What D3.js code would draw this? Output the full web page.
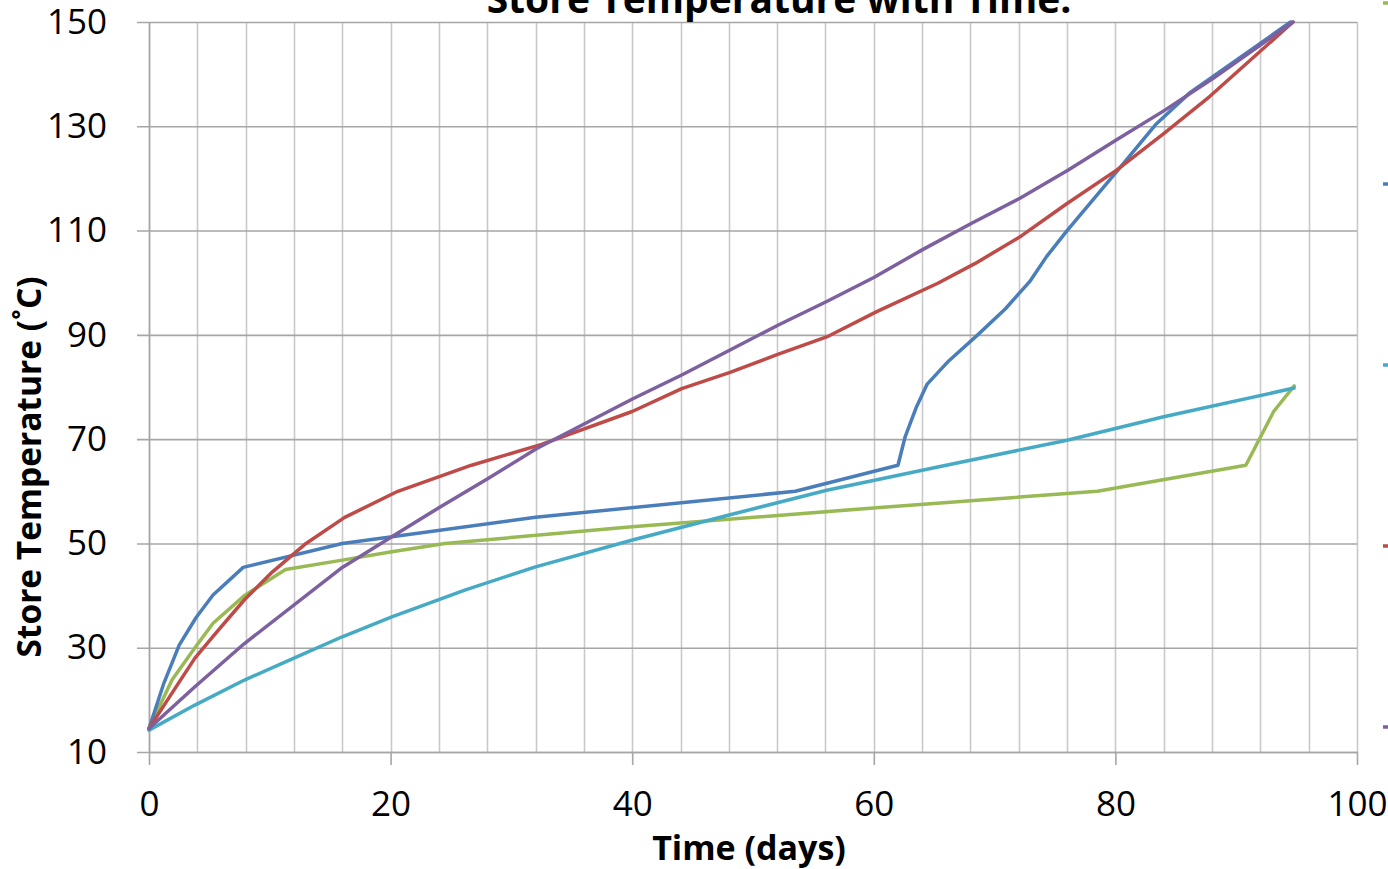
<!DOCTYPE html>
<html>
<head>
<meta charset="utf-8">
<script src="https://cdn.jsdelivr.net/npm/d3@7"></script>
<style>
  html, body { margin: 0; padding: 0; background: #ffffff; overflow: hidden; }
  svg { display: block; font-family: "Open Sans", "Noto Sans", sans-serif; }
</style>
</head>
<body>
<svg id="chart" width="1388" height="869"></svg>
<script>
// Axis ticks
const xTicks = [0, 20, 40, 60, 80, 100];
const yTicks = [10, 30, 50, 70, 90, 110, 130, 150];
const xGridStep = 4;

// Store temperature (°C) against time (days), one pair of arrays per run
const runGreenDays  = [0, 1.9, 3.8, 5.3, 7.9, 11.3, 16, 20.1, 24.5, 40, 60.5, 78.5, 90.8, 93.1, 94.8];
const runGreenTemps = [14.5, 23.8, 30, 34.7, 40, 45, 46.8, 48.4, 50, 53.2, 56.9, 60, 65, 75.3, 80.2];

const runBlueDays  = [0, 1.2, 2.5, 3.9, 5.3, 7.8, 16, 32, 53.5, 62, 62.6, 63.5, 64.4, 66.2, 68.6, 70.9, 72.9, 74.3, 76, 80, 83.4, 86.2, 94.5];
const runBlueTemps = [14.5, 23, 30.5, 35.8, 40.1, 45.4, 50, 55, 60, 65, 70.5, 76, 80.5, 85, 90, 95, 100.2, 105, 110, 121, 130.5, 136.5, 150];

const runCyanDays  = [0, 3.8, 7.9, 12, 16, 20.1, 26.2, 32, 40.1, 48.1, 56.1, 65, 76, 84, 94.8];
const runCyanTemps = [14.2, 19, 23.8, 28, 32.1, 35.9, 41.1, 45.5, 50.7, 55.5, 60.2, 64.5, 69.8, 74.3, 79.8];

const runRedDays  = [0, 1.9, 3.8, 5.6, 7.9, 10.2, 13, 16.2, 20.6, 26.7, 32.5, 40, 44.1, 48.1, 52.1, 56.1, 60.2, 65.3, 68.4, 72.1, 76, 80.1, 84, 87.8, 94.7];
const runRedTemps = [14.5, 21.3, 28, 33, 39.2, 44.5, 50, 55, 60, 65, 69, 75.3, 79.7, 82.8, 86.3, 89.6, 94.4, 99.9, 103.7, 108.8, 115.2, 121.6, 128.6, 135.7, 150];

const runPurpleDays  = [0, 3.8, 7.9, 16, 20.1, 24.1, 28.1, 32.1, 36.1, 40.1, 44.1, 48.1, 52.1, 56.1, 60, 64, 68.1, 72.1, 76.1, 80.1, 84.1, 88.1, 94.7];
const runPurpleTemps = [14.5, 22.5, 30.8, 45.4, 51.3, 57, 62.5, 68.2, 73, 77.8, 82.3, 87.1, 91.9, 96.4, 101, 106.3, 111.4, 116.2, 121.6, 127.4, 133.1, 139.2, 150];

const runs = [
  { days: runGreenDays,  temps: runGreenTemps,  color: "#98b954" },
  { days: runBlueDays,   temps: runBlueTemps,   color: "#4a7ebb" },
  { days: runCyanDays,   temps: runCyanTemps,   color: "#46aac5" },
  { days: runRedDays,    temps: runRedTemps,    color: "#be4b48" },
  { days: runPurpleDays, temps: runPurpleTemps, color: "#7d60a0" }
];

const svg = d3.select("#chart");
const plot = { left: 149, right: 1357, top: 22, bottom: 752 };

const x = d3.scaleLinear().domain([0, 100]).range([plot.left, plot.right]);
const y = d3.scaleLinear().domain([10, 150]).range([plot.bottom, plot.top]);

// Minor vertical gridlines every 4 days
svg.append("g")
  .selectAll("line")
  .data(d3.range(0, 100 + 1e-9, xGridStep))
  .join("line")
  .attr("x1", d => Math.round(x(d)) + 0.5)
  .attr("x2", d => Math.round(x(d)) + 0.5)
  .attr("y1", plot.top)
  .attr("y2", plot.bottom)
  .attr("stroke", "#c9c9c9")
  .attr("stroke-width", 1.6);

// Horizontal gridlines with outward y ticks
const yAxis = d3.axisLeft(y)
  .tickValues(yTicks)
  .tickSize(-(plot.right - plot.left))
  .tickSizeOuter(0)
  .tickPadding(42)
  .tickFormat(d3.format("d"));

const gy = svg.append("g")
  .attr("transform", `translate(${plot.left},0)`)
  .call(yAxis);
gy.select(".domain").remove();
gy.selectAll(".tick line")
  .attr("x1", -12)
  .attr("stroke", "#a6a6a6")
  .attr("stroke-width", 1.6);
gy.selectAll(".tick text")
  .attr("fill", "#000")
  .attr("font-size", 35)
  .attr("font-family", "'Open Sans', sans-serif");

// Left axis line
svg.append("line")
  .attr("x1", plot.left + 0.5).attr("x2", plot.left + 0.5)
  .attr("y1", plot.top).attr("y2", plot.bottom)
  .attr("stroke", "#a6a6a6").attr("stroke-width", 1.6);

// Bottom axis
const xAxis = d3.axisBottom(x)
  .tickValues(xTicks)
  .tickSize(13)
  .tickSizeOuter(0)
  .tickPadding(26)
  .tickFormat(d3.format("d"));

const gx = svg.append("g")
  .attr("transform", `translate(0,${plot.bottom})`)
  .call(xAxis);
gx.select(".domain")
  .attr("stroke", "#a6a6a6").attr("stroke-width", 1.6);
gx.selectAll(".tick line")
  .attr("stroke", "#a6a6a6").attr("stroke-width", 1.6);
gx.selectAll(".tick text")
  .attr("fill", "#000")
  .attr("font-size", 35)
  .attr("font-family", "'Open Sans', sans-serif");

// Temperature curves
const line = d3.line()
  .x(d => x(d[0]))
  .y(d => y(d[1]));

svg.append("g")
  .selectAll("path")
  .data(runs)
  .join("path")
  .attr("d", r => line(r.days.map((d, i) => [d, r.temps[i]])))
  .attr("fill", "none")
  .attr("stroke", r => r.color)
  .attr("stroke-width", 3.5)
  .attr("stroke-linejoin", "round")
  .attr("stroke-linecap", "round");

// Legend swatches along the right edge
const legendY = d3.scalePoint().domain(d3.range(runs.length)).range([3, 727]);
svg.append("g")
  .selectAll("line")
  .data(runs)
  .join("line")
  .attr("x1", 1383)
  .attr("x2", 1400)
  .attr("y1", (r, i) => legendY(i))
  .attr("y2", (r, i) => legendY(i))
  .attr("stroke", r => r.color)
  .attr("stroke-width", 3.5);

// Titles
svg.append("text")
  .attr("x", 779)
  .attr("y", 13)
  .attr("text-anchor", "middle")
  .attr("font-size", 39)
  .attr("font-weight", "bold")
  .text("Store Temperature with Time.");

svg.append("text")
  .attr("x", 749)
  .attr("y", 860)
  .attr("text-anchor", "middle")
  .attr("font-size", 34)
  .attr("font-weight", "bold")
  .text("Time (days)");

svg.append("text")
  .attr("transform", "translate(41,467) rotate(-90)")
  .attr("text-anchor", "middle")
  .attr("font-size", 33.5)
  .attr("font-weight", "bold")
  .text("Store Temperature (˚C)");
</script>
</body>
</html>
